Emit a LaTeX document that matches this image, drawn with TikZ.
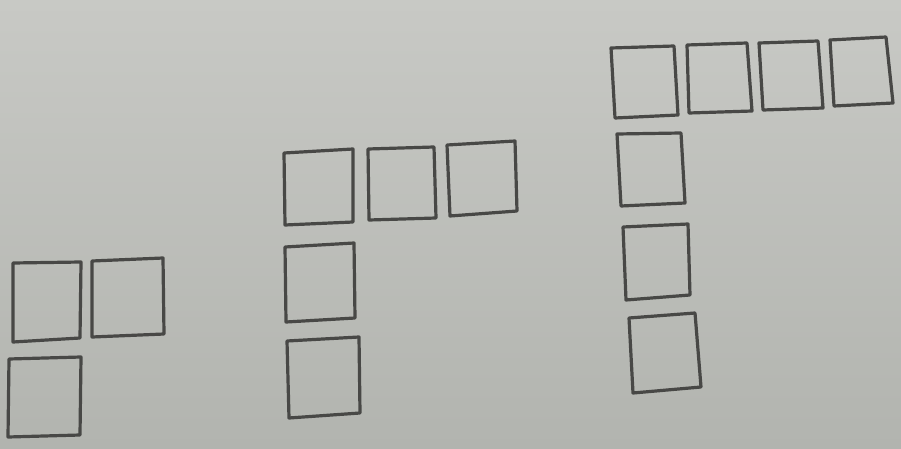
\documentclass[tikz,border=0pt]{standalone}
\begin{document}
\begin{tikzpicture}[x=1pt,y=-1pt,
  cell/.style={draw=sqline,line width=3.2pt,line join=round},
]
\definecolor{sqline}{RGB}{72,72,70}
\definecolor{bgtop}{RGB}{200,201,197}
\definecolor{bgbot}{RGB}{178,180,175}
\useasboundingbox (0,0) rectangle (901,449);
\shade[top color=bgtop,bottom color=bgbot] (0,0) rectangle (901,449);
% group 1
\draw[cell] (13,263) -- (81,262) -- (80,338) -- (13,342) -- cycle;
\draw[cell] (92,261) -- (163,258) -- (164,334) -- (92,337) -- cycle;
\draw[cell] (9,359) -- (81,357) -- (80,435) -- (8,437) -- cycle;
% group 2
\draw[cell] (284,153) -- (353,149) -- (353,222) -- (285,225) -- cycle;
\draw[cell] (368,149) -- (434,147) -- (436,218) -- (369,220) -- cycle;
\draw[cell] (447,145) -- (515,141) -- (517,211) -- (450,216) -- cycle;
\draw[cell] (285,247) -- (354,243) -- (355,318) -- (286,322) -- cycle;
\draw[cell] (287,341) -- (359,337) -- (360,413) -- (289,418) -- cycle;
% group 3
\draw[cell] (611,48) -- (674,46) -- (678,115) -- (615,118) -- cycle;
\draw[cell] (687,45) -- (747,43) -- (752,111) -- (689,113) -- cycle;
\draw[cell] (759,43) -- (818,41) -- (823,108) -- (763,110) -- cycle;
\draw[cell] (830,40) -- (886,37) -- (893,103) -- (834,106) -- cycle;
\draw[cell] (617,134) -- (681,133) -- (685,203) -- (621,206) -- cycle;
\draw[cell] (623,227) -- (688,224) -- (690,295) -- (626,300) -- cycle;
\draw[cell] (629,318) -- (695,313) -- (701,387) -- (633,393) -- cycle;
\end{tikzpicture}
\end{document}
